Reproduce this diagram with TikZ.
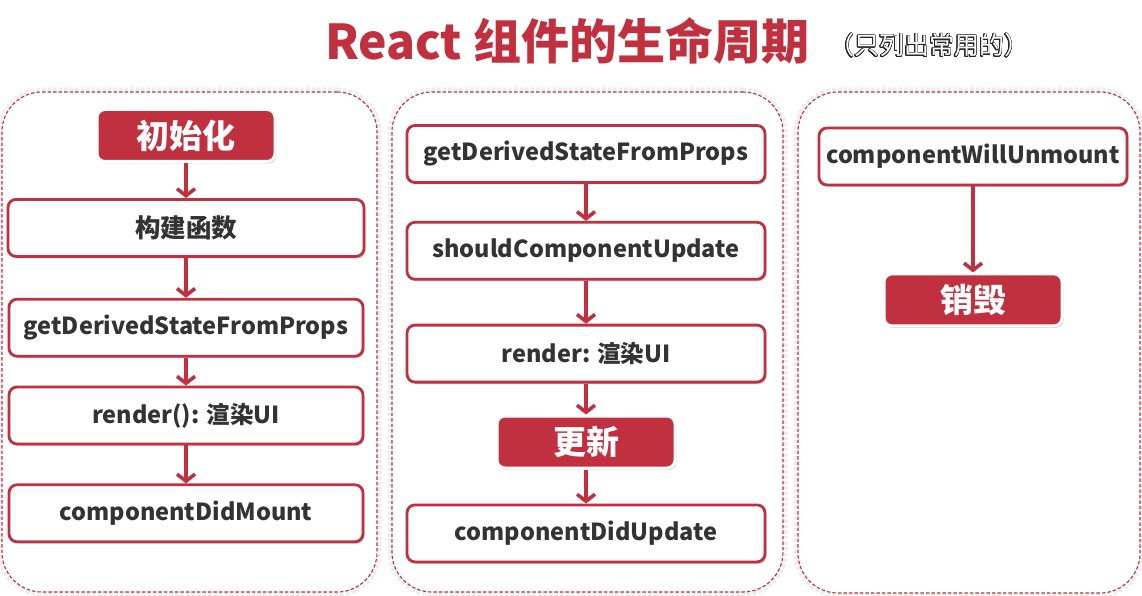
\documentclass[tikz,border=0pt]{standalone}
\usepackage{fontspec}
\setmainfont{Noto Sans CJK SC}
\usepackage{tikz}
\usepackage[copies]{contour}
\contourlength{0.7pt}
\contournumber{24}
\usetikzlibrary{arrows.meta,positioning,shadows}
\definecolor{lcred}{HTML}{C1303F}
\definecolor{lctext}{HTML}{333333}
\tikzset{
  lcpanel/.style={draw=lcred, line width=1.1pt, dash pattern=on 3.5pt off 2pt, rounded corners=40pt, fill=white, preaction={draw=black!7, line width=9pt}},
  lcbox/.style={draw=lcred, line width=2.8pt, rounded corners=8pt, fill=white, text=lctext, font=\bfseries\fontsize{23.5}{26}\selectfont, minimum height=57pt, drop shadow={shadow xshift=1.5pt, shadow yshift=-2pt, opacity=0.3, fill=black!60}},
  lcstage/.style={draw=white, line width=3pt, rounded corners=8pt, fill=lcred, text=white, font=\bfseries\fontsize{33}{36}\selectfont, minimum width=178pt, minimum height=52pt, drop shadow={shadow xshift=1.5pt, shadow yshift=-2pt, opacity=0.3, fill=black!60}},
  lcline/.style={draw=lcred, line width=3.6pt, -{Straight Barb[length=7pt,width=18pt]}}
}
\begin{document}
\begin{tikzpicture}[x=1pt, y=-1pt]
  \useasboundingbox (0,0) rectangle (1142,596);
  \node[anchor=base west, text=lcred, font=\bfseries\fontsize{48}{52}\selectfont, inner sep=0pt] (title) at (325,60) {React 组件的生命周期};
  \node[anchor=base west, text=white, font=\fontsize{25}{28}\selectfont, inner sep=0pt] (note) at (829,55) {\contour{black!85}{（只列出常用的）}};
  \node[lcpanel, minimum width=375pt, minimum height=500pt] (mountpanel) at (189.5,342) {};
  \node[lcpanel, minimum width=391pt, minimum height=500pt] (updatepanel) at (587.5,342) {};
  \node[lcpanel, minimum width=342pt, minimum height=501pt] (unmountpanel) at (969,342.5) {};

  \node[lcstage] (init) at (186,135.5) {初始化};
  \node[lcbox, minimum width=356pt, below=35pt of init, font=\bfseries\fontsize{25.5}{28}\selectfont] (ctor) {构建函数};
  \node[lcbox, minimum width=354pt, below=40pt of ctor] (mgdsfp) {getDerivedStateFromProps};
  \node[lcbox, minimum width=354pt, below=28pt of mgdsfp] (mrender) {render(): 渲染UI};
  \node[lcbox, minimum width=354pt, below=38pt of mrender] (didmount) {componentDidMount};

  \node[lcbox, minimum width=358pt] (ugdsfp) at (586,154) {getDerivedStateFromProps};
  \node[lcbox, minimum width=358pt, below=37pt of ugdsfp] (scu) {shouldComponentUpdate};
  \node[lcbox, minimum width=358pt, below=43pt of scu] (urender) {render: 渲染UI};
  \node[lcstage, below=31pt of urender] (update) {更新};
  \node[lcbox, minimum width=358pt, below=34pt of update] (didupdate) {componentDidUpdate};

  \node[lcbox, minimum width=308pt] (willunmount) at (973,156.5) {componentWillUnmount};
  \node[lcstage, below=86pt of willunmount] (destroy) {销毁};

  \draw[lcline] (init) -- (ctor);
  \draw[lcline] (ctor) -- (mgdsfp);
  \draw[lcline] (mgdsfp) -- (mrender);
  \draw[lcline] (mrender) -- (didmount);
  \draw[lcline] (ugdsfp) -- (scu);
  \draw[lcline] (scu) -- (urender);
  \draw[lcline] (urender) -- (update);
  \draw[lcline] (update) -- (didupdate);
  \draw[lcline] (willunmount) -- (destroy);
\end{tikzpicture}
\end{document}
